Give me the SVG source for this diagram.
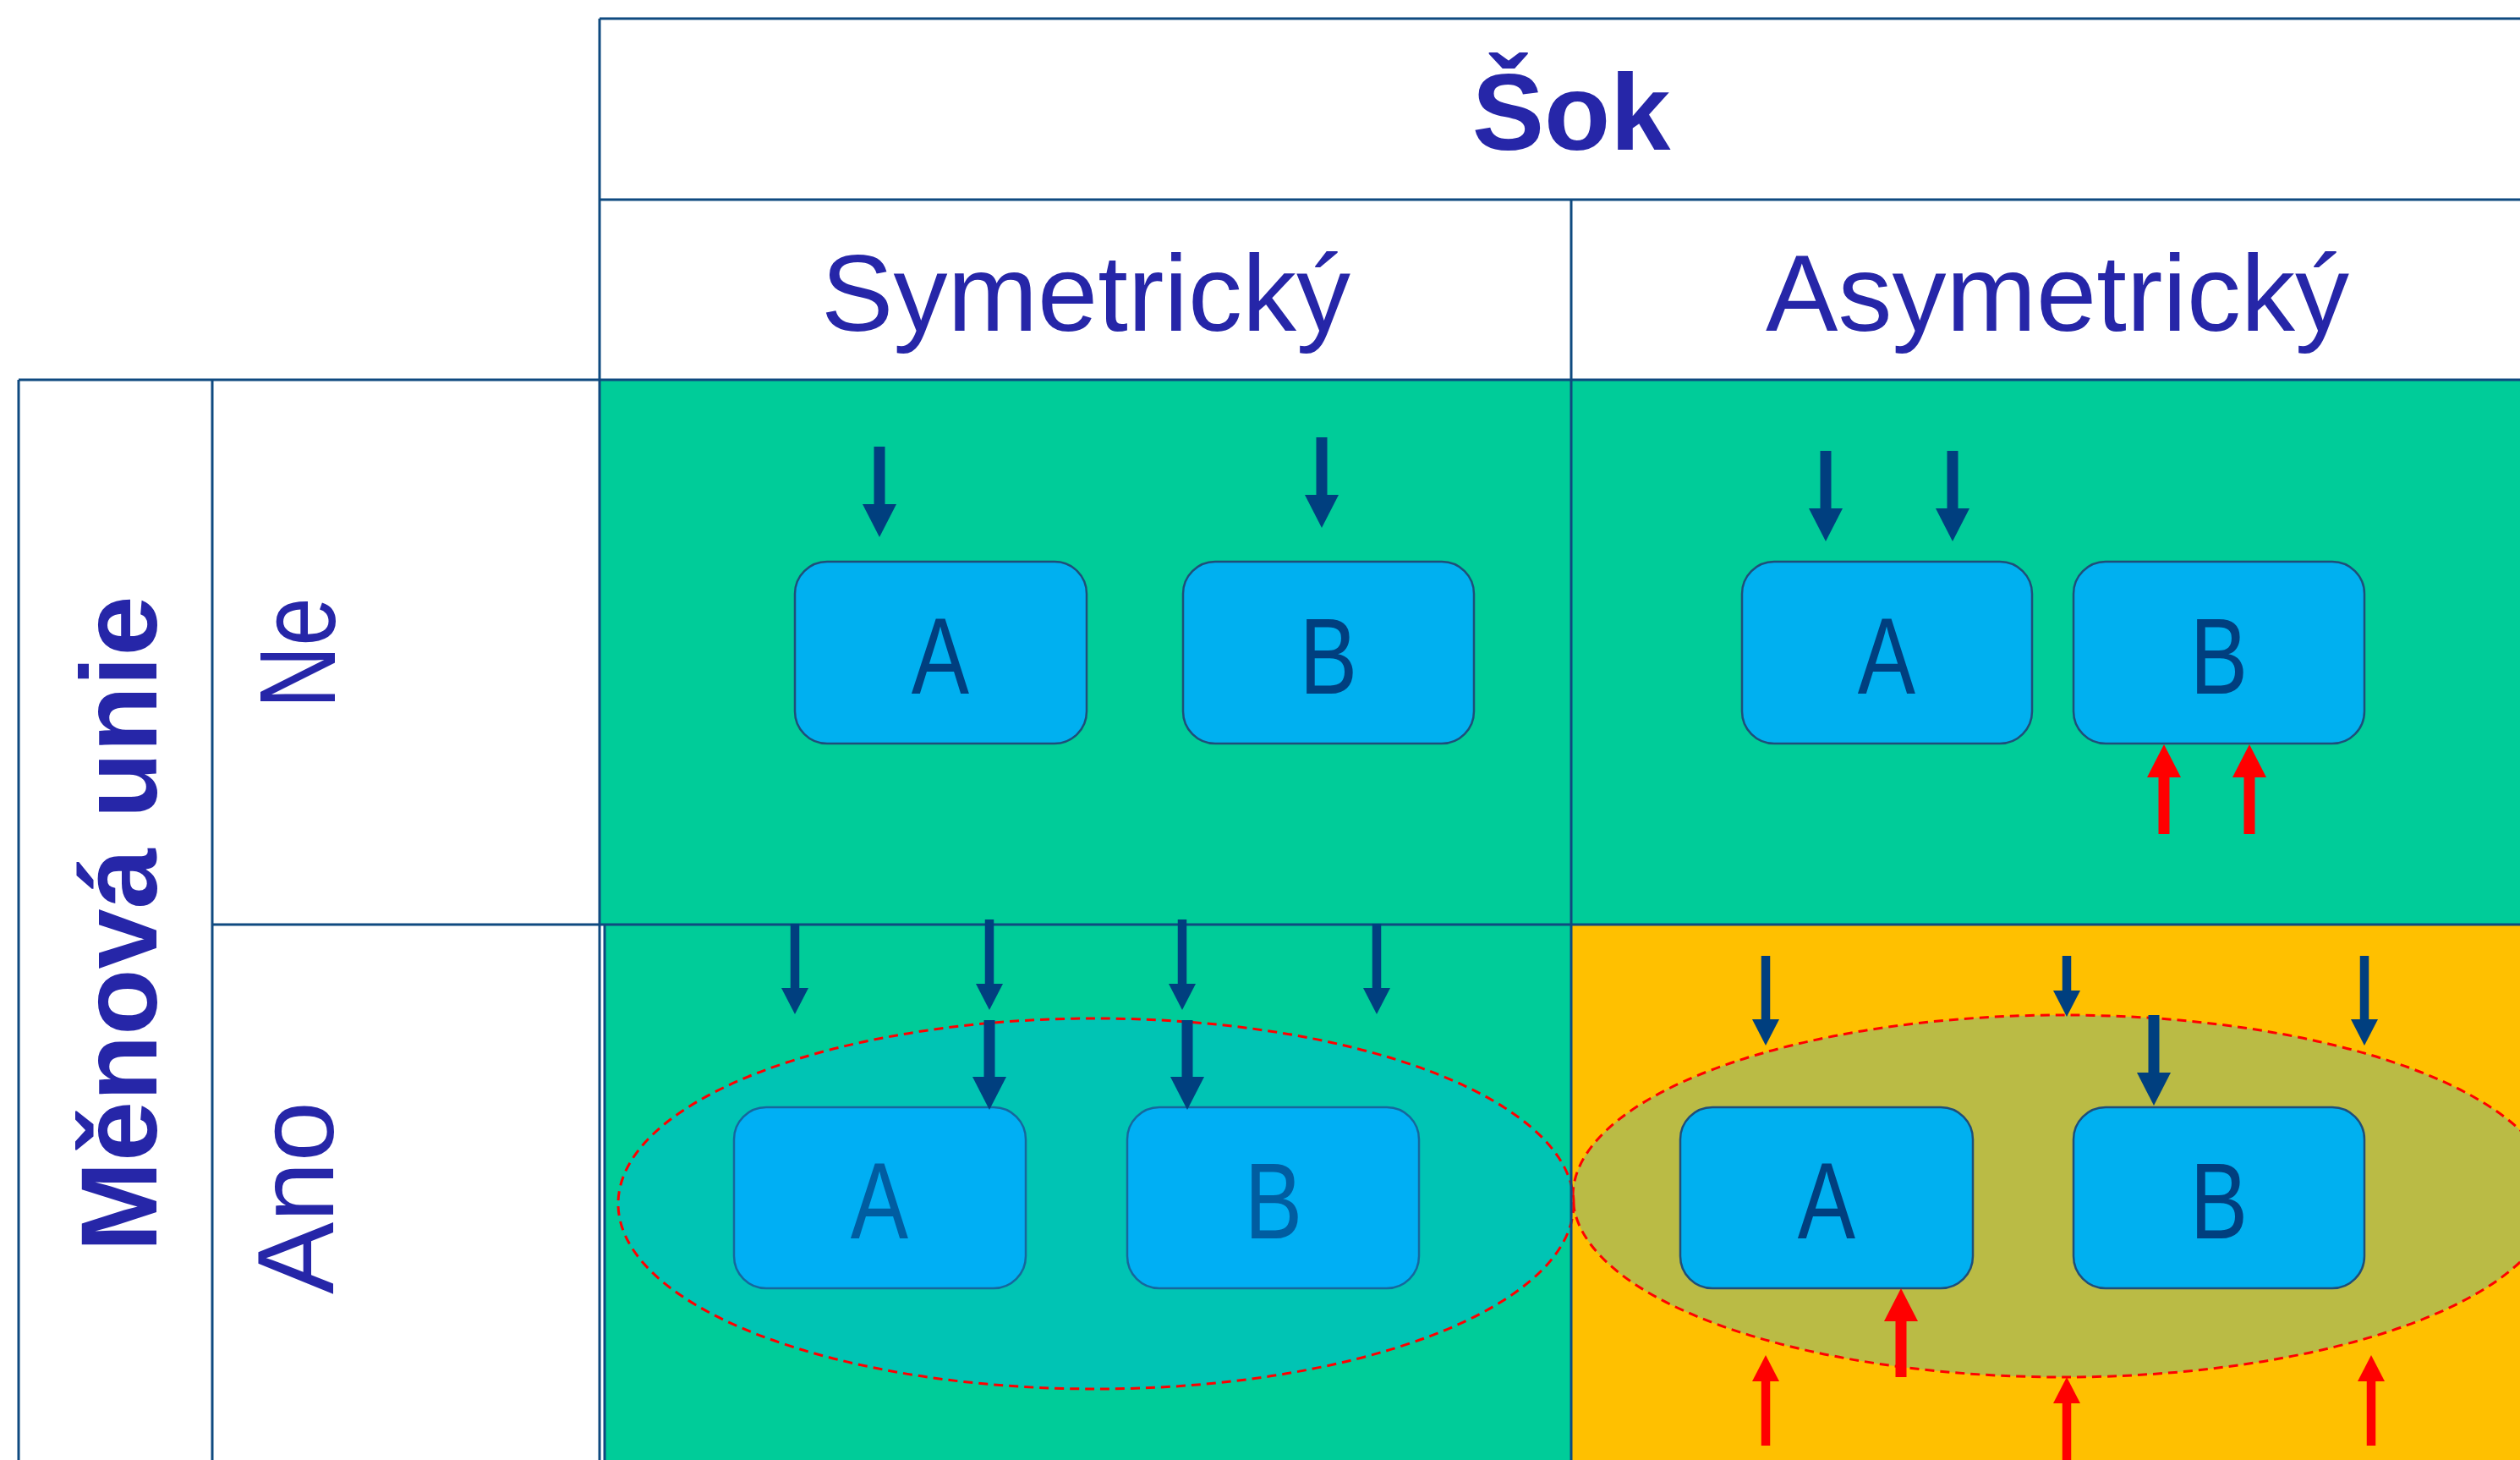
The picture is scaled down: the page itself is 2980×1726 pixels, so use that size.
<svg xmlns="http://www.w3.org/2000/svg" width="2980" height="1726" viewBox="0 0 2980 1726">
  <style>
    .grid { stroke: #0F4A80; stroke-width: 3; fill: none; }
    .green { fill: #00CC99; }
    .yellow { fill: #FFC000; }
    .head { font-family: "Liberation Sans", Arial, sans-serif; font-size: 128px; fill: #2626A8; text-anchor: middle; }
    .bold { font-weight: bold; }
    .box { fill: #00B0F0; stroke: #1F4E79; stroke-width: 2.5; }
    .lbl { font-family: "Liberation Sans", Arial, sans-serif; font-size: 128px; fill: #003F7F; text-anchor: middle; }
    .union { fill: #00ADFF; fill-opacity: 0.27; stroke: #FF0000; stroke-width: 3; stroke-dasharray: 11 7; }
    .dk { stroke: #003F7F; }
    .rd { stroke: #FF0000; }
    .big { stroke-width: 13; }
    .small { stroke-width: 10.5; }
  </style>
  <defs>
    <marker id="hd-dark-big" markerUnits="userSpaceOnUse" viewBox="0 -20 39 40" markerWidth="39" markerHeight="40" refX="0" refY="0" orient="auto" overflow="visible">
      <path d="M0,-20 L39,0 L0,20 Z" fill="#003F7F"/>
    </marker>
    <marker id="hd-dark-small" markerUnits="userSpaceOnUse" viewBox="0 -16 31 32" markerWidth="31" markerHeight="32" refX="0" refY="0" orient="auto" overflow="visible">
      <path d="M0,-16 L31,0 L0,16 Z" fill="#003F7F"/>
    </marker>
    <marker id="hd-red-big" markerUnits="userSpaceOnUse" viewBox="0 -20 39 40" markerWidth="39" markerHeight="40" refX="0" refY="0" orient="auto" overflow="visible">
      <path d="M0,-20 L39,0 L0,20 Z" fill="#FF0000"/>
    </marker>
    <marker id="hd-red-small" markerUnits="userSpaceOnUse" viewBox="0 -16 31 32" markerWidth="31" markerHeight="32" refX="0" refY="0" orient="auto" overflow="visible">
      <path d="M0,-16 L31,0 L0,16 Z" fill="#FF0000"/>
    </marker>
  </defs>

  <rect x="0" y="0" width="2980" height="1726" fill="#FFFFFF"/>

  <!-- cell backgrounds -->
  <g id="cells">
    <rect class="green" x="709" y="449" width="1149" height="644"/>
    <rect class="green" x="1858" y="449" width="1152" height="644"/>
    <rect class="green" x="715" y="1093" width="1143" height="650"/>
    <rect class="yellow" x="1858" y="1093" width="1152" height="650"/>
  </g>

  <!-- currency-union ellipse behind the asymmetric boxes -->
  <ellipse id="union-asym" class="union" cx="2440" cy="1414" rx="580" ry="214"/>

  <!-- country boxes -->
  <g id="ne-sym-a"><rect class="box" x="940" y="664" width="345" height="215" rx="38" ry="38"/><text class="lbl" transform="translate(1112,820) scale(0.8,1)">A</text></g>
  <g id="ne-sym-b"><rect class="box" x="1399" y="664" width="344" height="215" rx="38" ry="38"/><text class="lbl" transform="translate(1571,820) scale(0.8,1)">B</text></g>
  <g id="ne-asym-a"><rect class="box" x="2060" y="664" width="343" height="215" rx="38" ry="38"/><text class="lbl" transform="translate(2231,820) scale(0.8,1)">A</text></g>
  <g id="ne-asym-b"><rect class="box" x="2452" y="664" width="344" height="215" rx="38" ry="38"/><text class="lbl" transform="translate(2624,820) scale(0.8,1)">B</text></g>
  <g id="ano-sym-a"><rect class="box" x="868" y="1309" width="345" height="214" rx="38" ry="38"/><text class="lbl" transform="translate(1040,1464) scale(0.8,1)">A</text></g>
  <g id="ano-sym-b"><rect class="box" x="1333" y="1309" width="345" height="214" rx="38" ry="38"/><text class="lbl" transform="translate(1506,1464) scale(0.8,1)">B</text></g>
  <g id="ano-asym-a"><rect class="box" x="1987" y="1309" width="346" height="214" rx="38" ry="38"/><text class="lbl" transform="translate(2160,1464) scale(0.8,1)">A</text></g>
  <g id="ano-asym-b"><rect class="box" x="2452" y="1309" width="344" height="214" rx="38" ry="38"/><text class="lbl" transform="translate(2624,1464) scale(0.8,1)">B</text></g>

  <!-- currency-union ellipse laid over the symmetric boxes -->
  <ellipse id="union-sym" class="union" cx="1296" cy="1423" rx="565" ry="219"/>

  <!-- table rules -->
  <g id="grid" class="grid">
    <line x1="709" y1="22" x2="3010" y2="22"/>
    <line x1="709" y1="236" x2="3010" y2="236"/>
    <line x1="22" y1="449" x2="3010" y2="449"/>
    <line x1="251" y1="1093" x2="3010" y2="1093"/>
    <line x1="22" y1="449" x2="22" y2="1740"/>
    <line x1="251" y1="449" x2="251" y2="1740"/>
    <line x1="709" y1="22" x2="709" y2="1740"/>
    <line x1="715" y1="1093" x2="715" y2="1740"/>
    <line x1="1858" y1="236" x2="1858" y2="1740"/>
  </g>

  <!-- headings -->
  <g id="headings">
    <text class="head bold" x="1858" y="177">Šok</text>
    <text class="head" x="1284" y="391">Symetrický</text>
    <text class="head" x="2433" y="391">Asymetrický</text>
    <text class="head bold" transform="translate(185,1092) rotate(-90)">Měnová unie</text>
    <text class="head" transform="translate(396,772) rotate(-90) scale(0.8,1)">Ne</text>
    <text class="head" transform="translate(394,1416) rotate(-90)">Ano</text>
  </g>

  <!-- shock arrows -->
  <g id="connectors">
    <line class="dk big" x1="1040" y1="528" x2="1040" y2="596" marker-end="url(#hd-dark-big)"/>
    <line class="dk big" x1="1563" y1="517" x2="1563" y2="585" marker-end="url(#hd-dark-big)"/>

    <line class="dk big" x1="2159" y1="533" x2="2159" y2="601" marker-end="url(#hd-dark-big)"/>
    <line class="dk big" x1="2309" y1="533" x2="2309" y2="601" marker-end="url(#hd-dark-big)"/>
    <line class="rd big" x1="2559" y1="986" x2="2559" y2="919" marker-end="url(#hd-red-big)"/>
    <line class="rd big" x1="2660" y1="986" x2="2660" y2="919" marker-end="url(#hd-red-big)"/>

    <line class="dk small" x1="940" y1="1092" x2="940" y2="1168" marker-end="url(#hd-dark-small)"/>
    <line class="dk small" x1="1170" y1="1087" x2="1170" y2="1163" marker-end="url(#hd-dark-small)"/>
    <line class="dk small" x1="1398" y1="1087" x2="1398" y2="1163" marker-end="url(#hd-dark-small)"/>
    <line class="dk small" x1="1628" y1="1092" x2="1628" y2="1168" marker-end="url(#hd-dark-small)"/>
    <line class="dk big" x1="1170" y1="1206" x2="1170" y2="1273" marker-end="url(#hd-dark-big)"/>
    <line class="dk big" x1="1404" y1="1206" x2="1404" y2="1273" marker-end="url(#hd-dark-big)"/>

    <line class="dk small" x1="2088" y1="1130" x2="2088" y2="1205" marker-end="url(#hd-dark-small)"/>
    <line class="dk small" x1="2444" y1="1130" x2="2444" y2="1171" marker-end="url(#hd-dark-small)"/>
    <line class="dk small" x1="2796" y1="1130" x2="2796" y2="1205" marker-end="url(#hd-dark-small)"/>
    <line class="dk big" x1="2547" y1="1200" x2="2547" y2="1268" marker-end="url(#hd-dark-big)"/>
    <line class="rd big" x1="2248" y1="1628" x2="2248" y2="1562" marker-end="url(#hd-red-big)"/>
    <line class="rd small" x1="2088" y1="1709" x2="2088" y2="1633" marker-end="url(#hd-red-small)"/>
    <line class="rd small" x1="2444" y1="1740" x2="2444" y2="1659" marker-end="url(#hd-red-small)"/>
    <line class="rd small" x1="2804" y1="1709" x2="2804" y2="1633" marker-end="url(#hd-red-small)"/>
  </g>
</svg>
